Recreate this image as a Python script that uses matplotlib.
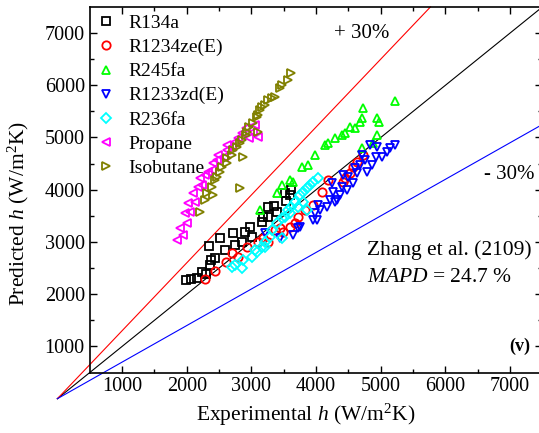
import numpy as np
import matplotlib
matplotlib.use("Agg")
import matplotlib.pyplot as plt

plt.rcParams['font.family'] = 'Liberation Serif'
plt.rcParams['mathtext.fontset'] = 'custom'
plt.rcParams['mathtext.rm'] = 'Liberation Serif'
plt.rcParams['mathtext.it'] = 'Liberation Serif:italic'
plt.rcParams['mathtext.bf'] = 'Liberation Serif:bold'

# experimental vs predicted h (W/m2K)
r134a_x = [1990, 2060, 2160, 2240, 2300, 2360, 2380, 2430, 2340, 2520, 2590, 2710, 2750, 2860,
           2900, 2980, 3010, 3170, 3180, 3250, 3260, 3350, 3390, 3520, 3540, 3590, 3620]
r134a_y = [2280, 2290, 2320, 2430, 2380, 2550, 2660, 2700, 2920, 3080, 2850, 3180, 2950, 3000,
           3200, 3290, 3100, 3390, 3480, 3480, 3670, 3690, 3580, 3940, 3790, 3900, 4000]

r1234ze_x = [2280, 2440, 2600, 2700, 2790, 2930, 3100, 3180, 3260, 3360, 3440, 3490, 3590,
             3670, 3720, 3830, 3950, 4090, 4190, 4420, 4450, 4530, 4570, 4630, 4720]
r1234ze_y = [2300, 2450, 2620, 2790, 2720, 2910, 3000, 3080, 3000, 3230, 3270, 3200, 3290,
             3370, 3480, 3620, 3710, 3960, 4190, 4150, 4230, 4320, 4440, 4530, 4670]

r245fa_x = [3130, 3390, 3470, 3590, 3640, 3780, 3880, 3980, 4140, 4190, 4290, 4400, 4450,
            4530, 4600, 4680, 4710, 4720, 4940, 4980, 4940, 4710, 5220, 4880]
r245fa_y = [3620, 3940, 4090, 4190, 4150, 4440, 4480, 4670, 4860, 4900, 4990, 5050, 5090,
            5200, 5180, 5300, 5380, 5570, 5380, 5300, 5050, 4800, 5690, 4900]

r1233zd_x = [3210, 3440, 3640, 3720, 3750, 3950, 4010, 3980, 4030, 4060, 4170, 4220, 4250,
             4260, 4290, 4320, 4370, 4400, 4420, 4480, 4490, 4570, 4600, 4630, 4680, 4710,
             4760, 4790, 4840, 4870, 4920, 4940, 5020, 5100, 5140, 5220]
r1233zd_y = [3180, 3080, 3140, 3270, 3290, 3430, 3430, 3560, 3710, 3620, 3670, 3810, 4130,
             3960, 3770, 3810, 3900, 4060, 4290, 4000, 4250, 4130, 4420, 4320, 4480, 4670,
             4570, 4340, 4860, 4480, 4630, 4820, 4630, 4730, 4800, 4860]

r236fa_x = [2700, 2750, 2860, 2870, 3010, 3050, 3090, 3170, 3210, 3280, 3210, 3320, 3390,
            3470, 3470, 3520, 3570, 3590, 3620, 3670, 3720, 3750, 3800, 3800, 3860, 3860,
            3910, 3950, 4030]
r236fa_y = [2530, 2560, 2510, 2660, 2720, 2850, 2810, 2910, 3000, 3100, 2910, 3230, 3370,
            3080, 3460, 3480, 3620, 3560, 3670, 3770, 3670, 3900, 3770, 3960, 4040, 3620,
            4090, 4150, 4230]

propane_x = [1850, 1940, 1900, 2000, 1970, 2050, 2020, 2130, 2100, 2180, 2240, 2210, 2280,
             2330, 2390, 2410, 2470, 2490, 2570, 2620, 2630, 2700, 2750, 2790, 2860, 2910,
             2970, 3020, 3050, 3100]
propane_y = [3040, 3140, 3270, 3370, 3560, 3580, 3750, 3770, 3940, 4060, 4090, 4230, 4290,
             4340, 4380, 4520, 4570, 4670, 4630, 4760, 4860, 4820, 4920, 4990, 5090, 5180,
             4990, 5110, 5240, 5010]

isobutane_x = [2210, 2280, 2310, 2410, 2390, 2440, 2470, 2520, 2550, 2620, 2630, 2700, 2710,
               2780, 2830, 2860, 2910, 2930, 2970, 3020, 3090, 3100, 3130, 3170, 3210, 3260,
               3320, 3360, 3440, 3470, 3570, 3620, 2830, 2870, 3100]
isobutane_y = [3580, 3810, 3940, 3900, 4060, 4190, 4250, 4340, 4440, 4520, 4610, 4670, 4760,
               4820, 4900, 4950, 5050, 5110, 5200, 5280, 5390, 5430, 5530, 5590, 5620, 5720,
               5760, 5780, 5950, 6010, 6100, 6240, 4040, 4630, 5110]

series = [
    (r134a_x, r134a_y, 's', 'black', 'R134a'),
    (r1234ze_x, r1234ze_y, 'o', 'red', 'R1234ze(E)'),
    (r245fa_x, r245fa_y, '^', '#00ff00', 'R245fa'),
    (r1233zd_x, r1233zd_y, 'v', 'blue', 'R1233zd(E)'),
    (r236fa_x, r236fa_y, 'D', 'cyan', 'R236fa'),
    (propane_x, propane_y, '<', 'magenta', 'Propane'),
    (isobutane_x, isobutane_y, '>', '#808000', 'Isobutane'),
]

lo, hi = 500, 7500

fig = plt.figure(figsize=(5.39, 4.33), dpi=100)
# right spine sits just past the picture's edge, as in the original crop
ax = fig.add_axes([0.1664, 0.1395, 0.840, 0.8446])

# y = x and +/- 30 % lines, drawn from the origin (outside the axes)
for k, c in [(1.0, 'black'), (1.3, 'red'), (0.7, 'blue')]:
    xe = min(hi, hi / k)
    ax.plot([0, xe], [0, k * xe], color=c, lw=0.8, clip_on=False, zorder=1)

for x, y, m, c, lab in series:
    ms = 5.0 if m == 'D' else 6.0
    ax.plot(x, y, ls='none', marker=m, ms=ms, mfc='none', mec=c, mew=1.3, label=lab, zorder=3)

ax.set_xlim(lo, hi)
ax.set_ylim(lo, hi)
ax.set_xticks(np.arange(1000, 7001, 1000))
ax.set_yticks(np.arange(1000, 7001, 1000))
ax.set_xticks(np.arange(1500, 7500, 1000), minor=True)
ax.set_yticks(np.arange(1500, 7500, 1000), minor=True)
ax.tick_params(which='both', direction='in', top=True, right=True, labelsize=14.5)
ax.tick_params(which='major', length=5, width=1)
ax.tick_params(which='minor', length=3, width=1)
for s in ax.spines.values():
    s.set_linewidth(1.2)

ax.set_xlabel('Experimental $h$ (W/m$^2$K)', fontsize=15.5)
ax.set_ylabel('Predicted $h$ (W/m$^2$K)', fontsize=15.5)
ax.xaxis.set_label_coords(0.478, -0.08)
ax.yaxis.set_label_coords(-0.13, 0.434)

ax.text(4710, 7000, '+ 30%', fontsize=15, ha='center', va='center')
ax.text(6980, 4290, '- 30%', fontsize=15, ha='center', va='center')
ax.text(4790, 2850, 'Zhang et al. (2109)', fontsize=15.5, ha='left', va='center')
ax.text(4790, 2320, '$MAPD$ = 24.7 %', fontsize=15.5, ha='left', va='center')
ax.text(7310, 1000, '(v)', fontsize=13, fontweight='bold', ha='right', va='center')

ax.legend(loc='upper left', frameon=False, fontsize=14, handletextpad=0.7,
          borderaxespad=0.1, borderpad=0.3, labelspacing=0.33, handlelength=0.9)

fig.savefig('out.png', dpi=100)
